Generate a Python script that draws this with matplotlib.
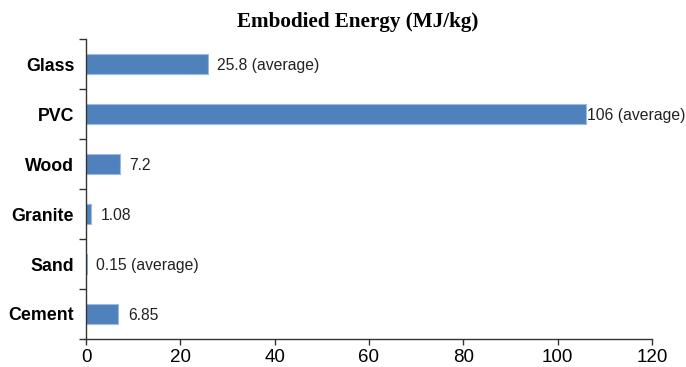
import numpy as np
import matplotlib
matplotlib.use('Agg')
from matplotlib import pyplot as plt

# data, top to bottom as shown
materials = ['Glass', 'PVC', 'Wood', 'Granite', 'Sand', 'Cement']
energy = [25.8, 106, 7.2, 1.08, 0.15, 6.85]
value_labels = ['25.8 (average)', '106 (average)', '7.2', '1.08',
                '0.15 (average)', '6.85']
xticks = [0, 20, 40, 60, 80, 100, 120]

fig = plt.figure(figsize=(6.86, 3.67), dpi=100)
ax = fig.add_axes([0.1254, 0.0763, 0.825, 0.8174])

y = np.arange(len(materials))[::-1]
bars = ax.barh(y, energy, height=0.4, color='#4f81bd',
               edgecolor='#9bbbe0', linewidth=0.8)

for b, lab, v in zip(bars, value_labels, energy):
    off = 1 if v == max(energy) else 7
    ax.annotate(lab, (b.get_width(), b.get_y() + b.get_height() / 2),
                xytext=(off, -1), textcoords='offset points',
                va='center', ha='left', fontsize=11.3,
                family='Liberation Sans', color='#222222')

ax.set_xlim(0, 120)
ax.set_ylim(-0.5, len(materials) - 0.5)
ax.set_xticks(xticks)
ax.set_yticks(y)
ax.set_yticklabels(materials, fontsize=12.8, fontweight='bold',
                   family='Liberation Sans')
ax.set_yticks(np.arange(len(materials) + 1) - 0.5, minor=True)
ax.tick_params(axis='y', which='major', length=0, pad=8.5)
ax.tick_params(axis='y', which='minor', length=5, width=1, color='#333333')
ax.tick_params(axis='x', length=4, width=1, color='#333333', labelsize=13.5,
               pad=3)
for t in ax.get_xticklabels():
    t.set_family('Liberation Sans')

for s in ['top', 'right']:
    ax.spines[s].set_visible(False)
for s in ['left', 'bottom']:
    ax.spines[s].set_color('#333333')
    ax.spines[s].set_linewidth(1)

fig.text(0.521, 0.94, 'Embodied Energy (MJ/kg)', ha='center', va='center',
         fontsize=15.2, fontweight='bold', family='Liberation Serif')

fig.savefig('out.png', dpi=100)
